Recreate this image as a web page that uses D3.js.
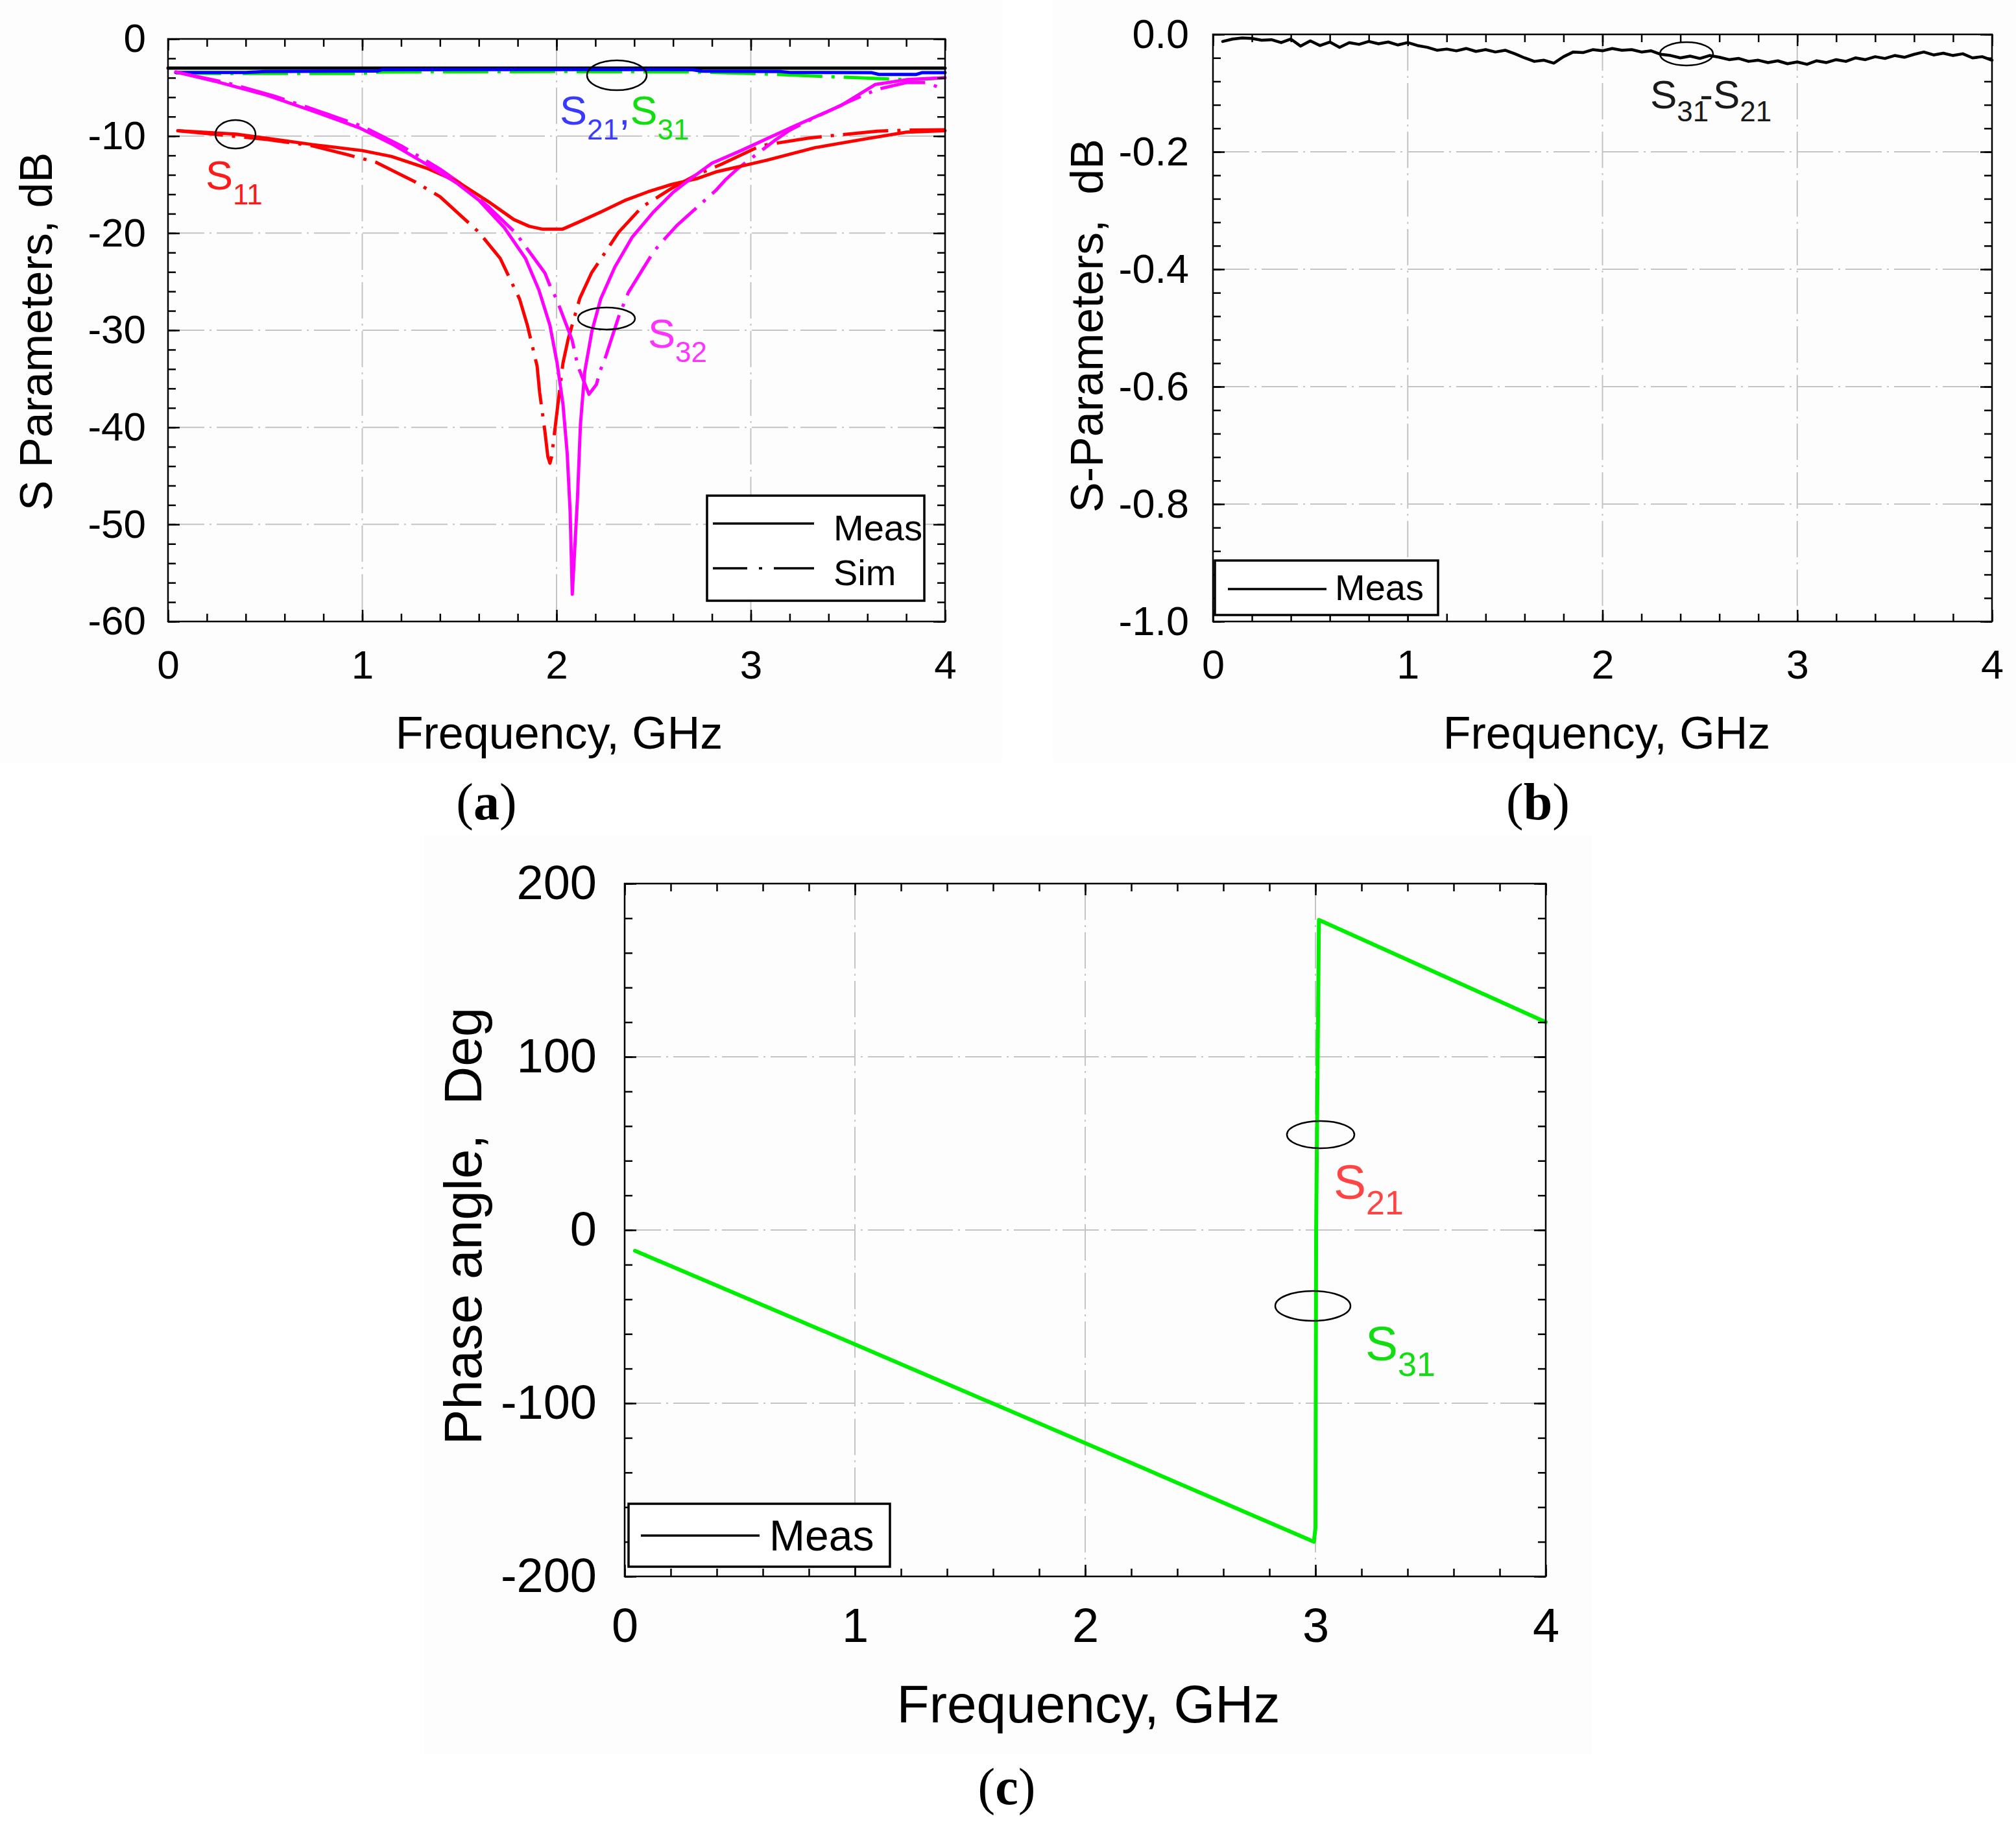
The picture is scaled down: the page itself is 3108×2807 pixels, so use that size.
<!DOCTYPE html>
<html lang="en">
<head>
<meta charset="UTF-8" />
<title>S-parameters of the divider</title>
<script src="https://d3js.org/d3.v7.min.js"></script>
<style>
  body { margin: 0; background: #fff; }
  svg { display: block; font-family: Arial, "Liberation Sans", sans-serif; }
  .grid line { stroke: #c4c4c4; stroke-width: 2; stroke-dasharray: 56 8 3 8; }
  .frame { fill: none; stroke: #000; stroke-width: 2.5; }
  .curve { fill: none; stroke-width: 5; stroke-linejoin: round; stroke-linecap: round; }
  .sim { stroke-dasharray: 70 14 5 14; stroke-linecap: butt; }
  .ring { fill: none; stroke: #000; stroke-width: 2.5; }
</style>
</head>
<body>
<script>
// ---- tick labels ----
const freqTicks = [0, 1, 2, 3, 4];
const aTicks = [0, -10, -20, -30, -40, -50, -60];
const bTicks = [0, -0.2, -0.4, -0.6, -0.8, -1.0];
const bTickLabels = ["0.0", "-0.2", "-0.4", "-0.6", "-0.8", "-1.0"];
const cTicks = [200, 100, 0, -100, -200];

// ---- (a) S parameters, dB : [GHz, dB] ----
const ref3dB = [[0, -3.0], [4, -3.0]];
const s21Meas = [[0.04,-3.45],[0.4,-3.45],[0.5,-3.36],[1.08,-3.3],[1.1,-3.18],[2.0,-3.15],[2.7,-3.17],
  [2.75,-3.32],[3.15,-3.36],[3.2,-3.45],[3.62,-3.47],[3.66,-3.66],[3.85,-3.66],[3.88,-3.48],[4.0,-3.47]];
const s31Sim = [[0.04,-3.5],[0.3,-3.56],[1.0,-3.55],[1.1,-3.4],[2.0,-3.36],[2.7,-3.4],[3.0,-3.55],
  [3.3,-3.8],[3.55,-4.0],[3.8,-4.2],[3.9,-4.15],[4.0,-4.0]];
const s11Meas = [[0.05,-9.46],[0.35,-9.8],[0.5,-10.2],[0.75,-10.9],[1.0,-11.5],[1.15,-12.1],[1.33,-13.3],
  [1.49,-14.7],[1.66,-16.9],[1.78,-18.6],[1.86,-19.3],[1.93,-19.6],[2.03,-19.6],[2.11,-18.9],[2.23,-17.8],
  [2.35,-16.65],[2.47,-15.75],[2.59,-15.0],[2.72,-14.4],[2.82,-13.7],[2.95,-13.1],[3.08,-12.5],
  [3.33,-11.2],[3.59,-10.3],[3.8,-9.6],[4.0,-9.45]];
const s11Sim = [[0.05,-9.46],[0.51,-10.35],[0.74,-11.0],[0.92,-11.9],[1.07,-12.7],[1.27,-14.7],[1.4,-16.25],
  [1.6,-19.9],[1.71,-22.6],[1.81,-26.8],[1.85,-29.5],[1.9,-33.7],[1.913,-36.4],[1.94,-40.4],[1.955,-43.0],
  [1.966,-43.7],[1.975,-43.0],[2.0,-38.8],[2.033,-33.4],[2.06,-30.9],[2.12,-26.7],[2.18,-24.1],[2.32,-19.9],
  [2.44,-17.3],[2.6,-15.3],[2.72,-14.0],[2.85,-12.9],[3.05,-11.0],[3.3,-10.2],[3.45,-9.9],[3.65,-9.5],
  [3.8,-9.4],[4.0,-9.35]];
const s32Meas = [[0.04,-3.4],[0.26,-4.45],[0.51,-5.8],[0.77,-7.6],[0.99,-9.2],[1.16,-10.9],[1.33,-12.9],
  [1.49,-14.9],[1.6,-16.6],[1.73,-19.4],[1.84,-22.6],[1.91,-25.9],[1.966,-29.5],[2.003,-33.4],[2.033,-37.6],
  [2.055,-42.7],[2.07,-48.7],[2.081,-57.2],[2.096,-51.7],[2.108,-47.2],[2.123,-39.7],[2.145,-34.3],
  [2.182,-30.1],[2.227,-26.8],[2.3,-23.5],[2.39,-20.4],[2.5,-17.8],[2.6,-15.8],[2.69,-14.4],[2.8,-12.8],
  [2.95,-11.5],[3.21,-9.1],[3.46,-6.9],[3.64,-4.7],[3.8,-4.2],[4.0,-4.0]];
const s32Sim = [[0.04,-3.4],[0.3,-4.5],[0.55,-5.9],[0.8,-7.6],[1.0,-9.0],[1.2,-11.0],[1.4,-13.4],[1.5,-14.8],
  [1.65,-17.3],[1.79,-20.0],[1.94,-24.1],[1.97,-25.6],[2.0,-26.8],[2.08,-31.0],[2.11,-33.7],[2.167,-36.6],
  [2.205,-35.6],[2.224,-34.2],[2.25,-32.9],[2.32,-28.6],[2.37,-26.1],[2.5,-21.9],[2.556,-20.6],[2.62,-19.2],
  [2.82,-15.6],[2.87,-14.5],[2.93,-13.4],[3.12,-10.5],[3.2,-9.4],[3.35,-7.9],[3.5,-6.5],[3.65,-5.2],
  [3.8,-4.5],[3.9,-4.5],[4.0,-5.2]];

// ---- (b) S31-S21 difference, dB ----
const bFreq = [0.05,0.10,0.15,0.20,0.25,0.30,0.35,0.40,0.45,0.50,0.55,0.60,0.65,0.70,0.75,0.80,0.85,0.90,0.95,1.00,
  1.05,1.10,1.15,1.20,1.25,1.30,1.35,1.40,1.45,1.50,1.55,1.60,1.65,1.70,1.75,1.80,1.85,1.90,1.95,2.00,
  2.05,2.10,2.15,2.20,2.25,2.30,2.35,2.40,2.45,2.50,2.55,2.60,2.65,2.70,2.75,2.80,2.85,2.90,2.95,3.00,
  3.05,3.10,3.15,3.20,3.25,3.30,3.35,3.40,3.45,3.50,3.55,3.60,3.65,3.70,3.75,3.80,3.85,3.90,3.95,4.00];
const bDiff = [-0.012,-0.008,-0.006,-0.007,-0.010,-0.009,-0.014,-0.008,-0.020,-0.011,-0.019,-0.013,-0.022,-0.014,-0.017,-0.012,-0.016,-0.013,-0.018,-0.014,
  -0.019,-0.022,-0.027,-0.025,-0.028,-0.024,-0.029,-0.026,-0.030,-0.027,-0.033,-0.040,-0.046,-0.044,-0.049,-0.038,-0.030,-0.031,-0.026,-0.028,
  -0.024,-0.027,-0.026,-0.030,-0.028,-0.034,-0.036,-0.040,-0.037,-0.041,-0.036,-0.039,-0.043,-0.041,-0.046,-0.044,-0.048,-0.045,-0.050,-0.047,
  -0.051,-0.045,-0.048,-0.043,-0.046,-0.040,-0.043,-0.038,-0.041,-0.036,-0.039,-0.034,-0.030,-0.035,-0.032,-0.036,-0.033,-0.040,-0.038,-0.044];

// ---- (c) phase angle, deg ----
const cPhase = [[0.045,-12],[1.0,-66],[2.0,-123],[2.993,-180],[3.0,-172],[3.003,0],[3.015,179],[3.5,150],[4.0,120]];

const svg = d3.select("body").append("svg")
  .attr("width", 3108)
  .attr("height", 2807);

// fondi appena grigi delle tre immagini
[[0, 0, 1545, 1175], [1623, 0, 1485, 1175], [653, 1287, 1802, 1418]].forEach(r => {
  svg.append("rect").attr("x", r[0]).attr("y", r[1]).attr("width", r[2]).attr("height", r[3]).attr("fill", "#fdfdfd");
});

function panel(p) {
  const x = d3.scaleLinear().domain([0, 4]).range([p.left, p.right]);
  const y = d3.scaleLinear().domain(p.yDomain).range([p.bottom, p.top]);
  const g = svg.append("g");

  // griglia tratto-punto
  const grid = g.append("g").attr("class", "grid");
  grid.selectAll("line.v").data(freqTicks.slice(1, -1)).join("line")
    .attr("x1", d => x(d)).attr("x2", d => x(d)).attr("y1", p.top).attr("y2", p.bottom);
  grid.selectAll("line.h").data(p.yTicks.slice(1, -1)).join("line")
    .attr("y1", d => y(d)).attr("y2", d => y(d)).attr("x1", p.left).attr("x2", p.right);

  const layer = g.append("g");   // curve

  // tacche minori (verso l'interno, su tutti i lati)
  const xMinor = d3.range(0, 4.0001, 0.2);
  const yMinor = d3.range(p.yDomain[0], p.yDomain[1] + p.minor / 2, p.minor);
  const ax = g.append("g");
  function tidy(sel) {
    sel.select(".domain").remove();
    sel.attr("font-family", null).attr("font-size", p.tickFont);
    sel.selectAll("line").attr("stroke-width", 2.5);
    sel.selectAll("text").attr("fill", "#000");
  }
  ax.append("g").attr("transform", `translate(0,${p.bottom})`)
    .call(d3.axisBottom(x).tickValues(xMinor).tickSize(-12).tickFormat("")).call(tidy);
  ax.append("g").attr("transform", `translate(0,${p.top})`)
    .call(d3.axisTop(x).tickValues(xMinor).tickSize(-12).tickFormat("")).call(tidy);
  ax.append("g").attr("transform", `translate(${p.left},0)`)
    .call(d3.axisLeft(y).tickValues(yMinor).tickSize(-12).tickFormat("")).call(tidy);
  ax.append("g").attr("transform", `translate(${p.right},0)`)
    .call(d3.axisRight(y).tickValues(yMinor).tickSize(-12).tickFormat("")).call(tidy);

  // tacche maggiori con etichette
  ax.append("g").attr("transform", `translate(0,${p.bottom})`)
    .call(d3.axisBottom(x).tickValues(freqTicks).tickSize(-18).tickPadding(p.xPad).tickFormat(d => String(d))).call(tidy);
  ax.append("g").attr("transform", `translate(0,${p.top})`)
    .call(d3.axisTop(x).tickValues(freqTicks).tickSize(-18).tickFormat("")).call(tidy);
  ax.append("g").attr("transform", `translate(${p.left},0)`)
    .call(d3.axisLeft(y).tickValues(p.yTicks).tickSize(-18).tickPadding(p.yPad)
      .tickFormat((d, i) => p.yLabels[i])).call(tidy);
  ax.append("g").attr("transform", `translate(${p.right},0)`)
    .call(d3.axisRight(y).tickValues(p.yTicks).tickSize(-18).tickFormat("")).call(tidy);

  g.append("rect").attr("class", "frame")
    .attr("x", p.left).attr("y", p.top)
    .attr("width", p.right - p.left).attr("height", p.bottom - p.top);

  // titoli degli assi
  g.append("text")
    .attr("x", p.xTitle[0]).attr("y", p.xTitle[1])
    .attr("text-anchor", "middle")
    .style("font-size", p.titleFont + "px")
    .text("Frequency, GHz");
  g.append("text")
    .attr("transform", `translate(${p.yTitle[0]},${p.yTitle[1]}) rotate(-90)`)
    .attr("text-anchor", "middle")
    .style("font-size", p.titleFont + "px")
    .style("white-space", "pre")
    .text(p.yTitleText);

  return { g, layer, x, y };
}

function curve(pn, pts, color, sim, width) {
  const line = d3.line().x(d => pn.x(d[0])).y(d => pn.y(d[1]));
  pn.layer.append("path")
    .datum(pts)
    .attr("class", sim ? "curve sim" : "curve")
    .attr("stroke", color)
    .style("stroke-width", width || null)
    .attr("d", line);
}

function subLabel(g, x, y, parts, size, subSize, shift) {
  const t = g.append("text").attr("x", x).attr("y", y).style("font-size", size + "px");
  let down = false;
  parts.forEach(pt => {
    const s = t.append("tspan").attr("fill", pt.c).text(pt.t);
    if (pt.sub && !down) { s.attr("dy", shift).style("font-size", subSize + "px"); down = true; }
    else if (!pt.sub && down) { s.attr("dy", -shift); down = false; }
    else if (pt.sub) s.style("font-size", subSize + "px");
    if (pt.dx) s.attr("dx", pt.dx);
  });
}

function ring(g, cx, cy, rx, ry) {
  g.append("ellipse").attr("class", "ring")
    .attr("cx", cx).attr("cy", cy).attr("rx", rx).attr("ry", ry);
}

function legend(g, box, rows, font) {
  const lg = g.append("g");
  lg.append("rect")
    .attr("x", box[0]).attr("y", box[1]).attr("width", box[2]).attr("height", box[3])
    .attr("fill", "#fff").attr("stroke", "#000").attr("stroke-width", 3.5);
  rows.forEach(r => {
    lg.append("line")
      .attr("x1", r.x1).attr("x2", r.x2).attr("y1", r.y).attr("y2", r.y)
      .attr("stroke", "#000").attr("stroke-width", 3.5)
      .attr("stroke-dasharray", r.dash || null);
    lg.append("text")
      .attr("x", r.tx).attr("y", r.ty)
      .style("font-size", font + "px")
      .text(r.label);
  });
}

function caption(x, y, letter) {
  const t = svg.append("text")
    .attr("x", x).attr("y", y)
    .attr("text-anchor", "middle")
    .style("font-family", "'Liberation Serif', 'Times New Roman', serif")
    .style("font-size", "80px");
  t.append("tspan").text("(");
  t.append("tspan").style("font-weight", "bold").text(letter);
  t.append("tspan").text(")");
}

// ======== (a) ========
const pa = panel({
  left: 259, right: 1457, top: 60, bottom: 958,
  yDomain: [-60, 0], yTicks: aTicks, yLabels: aTicks.map(String), minor: 2,
  tickFont: 62, titleFont: 70, xPad: 44, yPad: 34,
  xTitle: [862, 1154], yTitle: [80, 511], yTitleText: "S Parameters, dB"
});
curve(pa, ref3dB, "#000", false);
curve(pa, s31Sim, "#00ee00", true);
curve(pa, s21Meas, "#0000ff", false);
curve(pa, s11Sim, "#ff0000", true);
curve(pa, s32Sim, "#ff00ff", true);
curve(pa, s11Meas, "#ff0000", false);
curve(pa, s32Meas, "#ff00ff", false);

ring(pa.g, 951, 116, 46, 23);
ring(pa.g, 363, 207, 31, 22);
ring(pa.g, 935, 491, 44, 17);
subLabel(pa.g, 863, 192, [
  { t: "S", c: "#3a3aff" }, { t: "21", c: "#3a3aff", sub: true },
  { t: ",", c: "#3a3aff" }, { t: "S", c: "#11dd11" }, { t: "31", c: "#11dd11", sub: true }
], 63, 44, 23);
subLabel(pa.g, 317, 292, [{ t: "S", c: "#ff1a1a" }, { t: "11", c: "#ff1a1a", sub: true }], 63, 44, 23);
subLabel(pa.g, 999, 536, [{ t: "S", c: "#ff33ff" }, { t: "32", c: "#ff33ff", sub: true }], 63, 44, 22);

legend(pa.g, [1090, 764, 335, 162], [
  { x1: 1099, x2: 1255, y: 807, tx: 1285, ty: 833, label: "Meas" },
  { x1: 1099, x2: 1255, y: 876, tx: 1285, ty: 902, label: "Sim", dash: "53 18 5 18 70" }
], 56);

caption(750, 1263, "a");

// ======== (b) ========
const pb = panel({
  left: 1870, right: 3071, top: 53, bottom: 958,
  yDomain: [-1, 0], yTicks: bTicks, yLabels: bTickLabels, minor: 0.04,
  tickFont: 63, titleFont: 70, xPad: 43, yPad: 37,
  xTitle: [2477, 1154], yTitle: [1700, 502], yTitleText: "S-Parameters,  dB"
});
curve(pb, bFreq.map((f, i) => [f, bDiff[i]]), "#000", false, 4.5);

ring(pb.g, 2600, 83, 41, 18);
subLabel(pb.g, 2544, 167, [
  { t: "S", c: "#1a1a1a" }, { t: "31", c: "#1a1a1a", sub: true },
  { t: "-", c: "#1a1a1a", dx: -14 }, { t: "S", c: "#1a1a1a" }, { t: "21", c: "#1a1a1a", sub: true }
], 62, 44, 20);

legend(pb.g, [1873, 864, 344, 84], [
  { x1: 1893, x2: 2045, y: 908, tx: 2058, ty: 925, label: "Meas" }
], 56);

caption(2371, 1263, "b");

// ======== (c) ========
const pc = panel({
  left: 963, right: 2383, top: 1362, bottom: 2430,
  yDomain: [-200, 200], yTicks: cTicks, yLabels: cTicks.map(String), minor: 20,
  tickFont: 74, titleFont: 82, xPad: 48, yPad: 43,
  xTitle: [1678, 2655], yTitle: [742, 1890], yTitleText: "Phase angle,  Deg"
});
curve(pc, cPhase, "#00ee00", false, 6);

ring(pc.g, 2036, 1749, 52, 21);
ring(pc.g, 2024, 2013, 58, 23);
subLabel(pc.g, 2056, 1848, [{ t: "S", c: "#ff4444" }, { t: "21", c: "#ff4444", sub: true }], 75, 52, 24);
subLabel(pc.g, 2105, 2097, [{ t: "S", c: "#11dd11" }, { t: "31", c: "#11dd11", sub: true }], 75, 52, 24);

legend(pc.g, [969, 2318, 403, 97], [
  { x1: 988, x2: 1171, y: 2367, tx: 1186, ty: 2390, label: "Meas" }
], 66);

caption(1552, 2781, "c");
</script>
</body>
</html>
